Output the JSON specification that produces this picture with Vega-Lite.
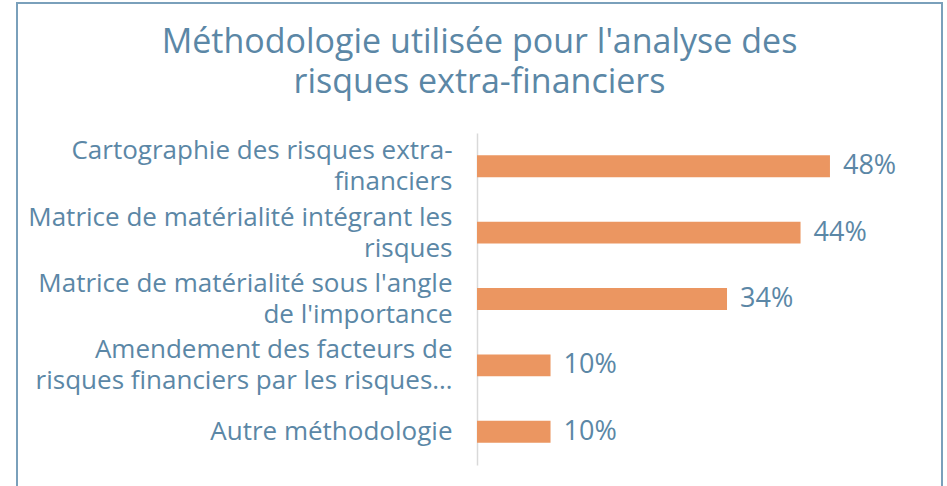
{
  "$schema": "https://vega.github.io/schema/vega-lite/v6.json",
  "width": 925,
  "height": 490,
  "autosize": {"type": "none"},
  "padding": {"left": 17, "top": 3, "right": 5, "bottom": 0},
  "background": "#ffffff",
  "config": {
    "view": {"stroke": "#7aa0bb", "strokeWidth": 2},
    "font": "Open Sans"
  },
  "title": {
    "text": ["Méthodologie utilisée pour l'analyse des", "risques extra-financiers"],
    "font": "Open Sans",
    "fontSize": 34,
    "fontWeight": "normal",
    "color": "#5b87a6",
    "anchor": "middle",
    "baseline": "alphabetic",
    "lineHeight": 40,
    "offset": -124
  },
  "data": {
    "values": [
      {"methode": "Cartographie des risques extra-\nfinanciers", "part": 0.48},
      {"methode": "Matrice de matérialité intégrant les\nrisques", "part": 0.44},
      {"methode": "Matrice de matérialité sous l'angle\nde l'importance", "part": 0.34},
      {"methode": "Amendement des facteurs de\nrisques financiers par les risques…", "part": 0.10},
      {"methode": "Autre méthodologie", "part": 0.10}
    ]
  },
  "encoding": {
    "y": {
      "field": "methode",
      "type": "nominal",
      "sort": null,
      "scale": {"range": [130, 462], "paddingInner": 0.67, "paddingOuter": 0.335},
      "axis": {
        "title": null,
        "offset": -460,
        "domain": true,
        "domainColor": "#d9d9d9",
        "domainWidth": 1.5,
        "ticks": false,
        "labelPadding": 25,
        "labelFont": "Open Sans",
        "labelFontSize": 26,
        "labelColor": "#5b87a6",
        "labelLimit": 0,
        "labelLineHeight": 31,
        "labelOffset": {"condition": {"test": "indexof(datum.value, '\\n') >= 0", "value": -15}, "value": 0},
        "labelExpr": "split(datum.label, '\\n')"
      }
    },
    "x": {
      "field": "part",
      "type": "quantitative",
      "scale": {"domain": [0, 0.6], "range": [460, 901.2]},
      "axis": null
    }
  },
  "layer": [
    {"mark": {"type": "bar", "color": "#eb9661"}},
    {
      "mark": {"type": "text", "align": "left", "baseline": "middle", "dx": 13, "fontSize": 27, "font": "Open Sans", "color": "#5b87a6"},
      "encoding": {"text": {"field": "part", "type": "quantitative", "format": ".0%"}}
    }
  ]
}
